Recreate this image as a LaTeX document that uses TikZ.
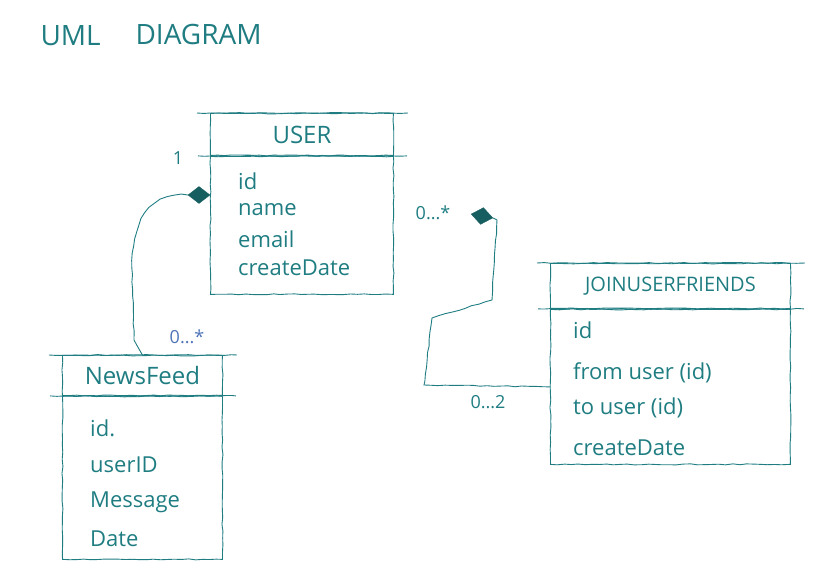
\documentclass[tikz,border=0pt]{standalone}
\usepackage{fontspec}
\setmainfont{Open Sans}
\usetikzlibrary{positioning,shapes.geometric,decorations.pathmorphing}
\definecolor{penteal}{HTML}{1F7D82}
\definecolor{penblue}{HTML}{4F74B8}
\tikzset{
  pen/.style={draw=penteal,line width=0.9pt,decorate,
    decoration={random steps,segment length=7pt,amplitude=0.5pt}},
  classhead/.style={pen,anchor=north west,inner sep=0pt,text=penteal,
    font=\fontsize{24}{26}\selectfont},
  classbody/.style={pen,anchor=north west,inner sep=0pt},
  attr/.style={anchor=west,inner sep=0pt,text=penteal,font=\fontsize{22}{24}\selectfont},
  mult/.style={inner sep=0pt,text=penteal,font=\fontsize{18}{20}\selectfont},
  comp/.style={diamond,fill=penteal!75!black,draw=penteal!75!black,
    minimum width=22pt,minimum height=17pt,inner sep=0pt}
}

\begin{document}
\begin{tikzpicture}[x=1pt,y=-1pt]
  \useasboundingbox (0,0) rectangle (831,576);
  % title
  \node[anchor=west,text=penteal,font=\fontsize{28}{30}\selectfont] (umltitle) at (37,36) {UML};
  \node[anchor=west,text=penteal,font=\fontsize{28}{30}\selectfont] (diagtitle) at (132,34) {DIAGRAM};

  % classes
  \node[classhead,minimum width=183pt,minimum height=42pt] (userhead) at (210,113) {USER};
  \node[classbody,minimum width=183pt,minimum height=138pt] (userbody) at (userhead.south west) {};
  \node[classhead,minimum width=160pt,minimum height=40pt] (newshead) at (62,355) {NewsFeed};
  \node[classbody,minimum width=160pt,minimum height=163pt] (newsbody) at (newshead.south west) {};
  \node[classhead,minimum width=240pt,minimum height=45pt,font=\fontsize{20}{22}\selectfont] (joinhead) at (550,263) {JOINUSERFRIENDS};
  \node[classbody,minimum width=240pt,minimum height=155pt] (joinbody) at (joinhead.south west) {};

  % sketchy overhangs
  \foreach \c in {userhead,newshead,joinhead}{
    \draw[pen] ([xshift=-13pt]\c.north west) -- ([xshift=14pt]\c.north east);
    \draw[pen] ([xshift=-12pt]\c.south west) -- ([xshift=13pt]\c.south east);
  }

  % attributes
  \foreach \t [count=\i] in {id,name,email,createDate}
    \node[attr] (userattr\i) at (238,{152+29*\i}) {\t};
  \foreach \t [count=\i] in {id.,userID,Message,Date}
    \node[attr] (newsattr\i) at (90,{391+37*\i}) {\t};
  \foreach \t/\y [count=\i] in {id/330,from user (id)/373,to user (id)/408,createDate/448}
    \node[attr] (joinattr\i) at (573,\y) {\t};

  % associations
  \node[comp] (feedcomp) at (199,195) {};
  \node[comp,rotate=-10] (friendcomp) at (482,216) {};
  \draw[pen] (feedcomp.west) .. controls (150,192) and (132,220) .. (132,268)
    -- (134,340) -- (newshead.north);
  \draw[pen] (friendcomp.east) -- (497,220) -- (492,300) -- (432,318)
    -- (424,385) -- (joinbody.west);

  \node[mult] (feedone) at (178,158) {1};
  \node[mult,text=penblue] (feedmany) at (187,337) {0...*};
  \node[mult] (friendmany) at (433,213) {0...*};
  \node[mult] (friendtwo) at (488,402) {0...2};
\end{tikzpicture}
\end{document}
